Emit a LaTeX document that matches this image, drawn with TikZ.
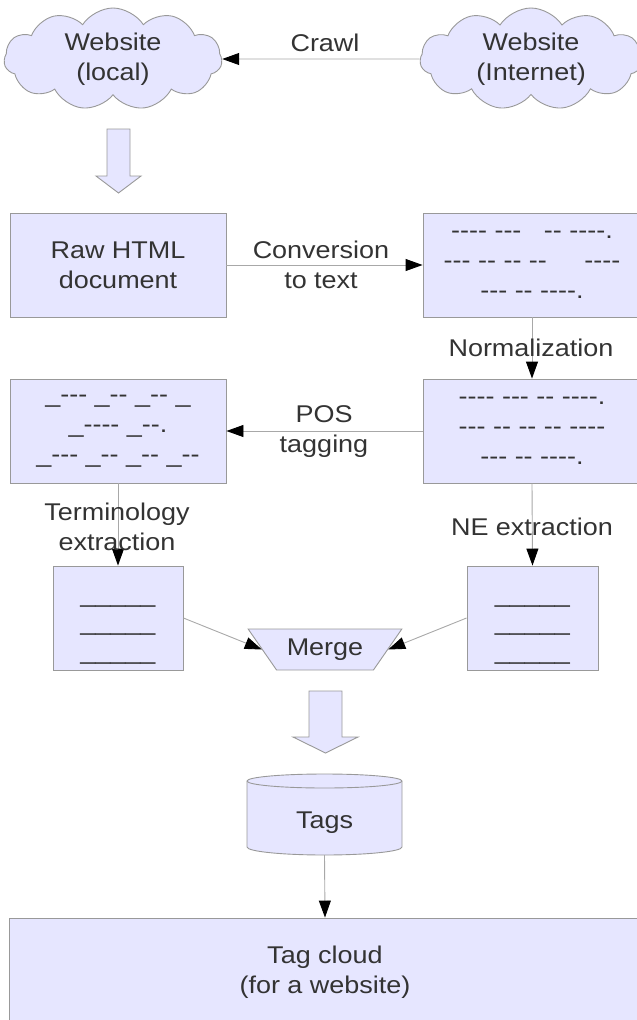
\documentclass[tikz,border=0pt]{standalone}
\usepackage{fontspec}
\setmainfont{Liberation Sans}[FakeStretch=1.115,Ligatures=TeXOff]
\usetikzlibrary{shapes.symbols,shapes.geometric,arrows.meta,calc}
\definecolor{boxfill}{HTML}{E6E6FF}
\definecolor{edge}{HTML}{999999}
\definecolor{wire}{HTML}{A8A8A8}
\definecolor{ink}{HTML}{333333}
\newcommand{\rulelines}{\raisebox{-7pt}[\height][\depth]{\renewcommand{\arraystretch}{0.95}\begin{tabular}{@{}c@{}}\_\_\_\_\_\\\_\_\_\_\_\\\_\_\_\_\_\end{tabular}}}
\begin{document}
\begin{tikzpicture}[x=1pt,y=-1pt,
  font=\fontsize{24.2}{30}\selectfont,
  every node/.style={text=ink},
  stepbox/.style={draw=edge, fill=boxfill, line width=0.9pt, align=center, inner sep=0pt, minimum width=216pt, minimum height=104pt},
  puff/.style={cloud, cloud puffs=11, cloud puff arc=115, cloud ignores aspect, draw=edge, fill=boxfill, line width=0.9pt, align=center, inner sep=0pt, minimum width=218pt, minimum height=102pt},
  flow/.style={draw=wire, line width=0.9pt, -{Triangle[length=17pt,width=12pt,color=black]}},
  lbl/.style={align=center, inner sep=0pt},
  blockarrow/.style={draw=edge, fill=boxfill, line width=0.9pt, line join=miter},
  drum/.style={draw=edge, fill=boxfill, line width=0.9pt}
]
\useasboundingbox (0,0) rectangle (637,1020);
\clip (0,0) rectangle (637,1020);

% clouds
\node[puff] (local) at (113,59) {Website\\(local)};
\node[puff, minimum width=222pt] (internet) at (531,59) {Website\\(Internet)};
\draw[flow] (internet.west) -- (local.east);
\node[lbl] (crawl) at (325,43) {Crawl};

% block arrow 1
\path[blockarrow] (107,129) -- (130,129) -- (130,176) -- (141,176) -- (118.5,193) -- (96,176) -- (107,176) -- cycle;

% row 2
\node[stepbox] (raw) at (118,265) {Raw HTML\\document};
\node[stepbox, minimum width=218pt] (plain) at (532,265) {---- ---\ \ \ -- ----.\\--- -- -- --\ \ \ \ \ ----\\--- -- ----.};
\draw[flow] (raw.east) -- (plain.west);
\node[lbl] (conv) at (321,265) {Conversion\\to text};

% row 3
\node[stepbox, minimum width=218pt] (norm) at (532,431) {---- --- -- ----.\\--- -- -- -- ----\\--- -- ----.};
\draw[flow] (plain.south) -- (norm.north);
\node[lbl] (normlbl) at (531,348) {Normalization};
\node[stepbox] (tagged) at (118,431) {\_--- \_-- \_-- \_\\\_---- \_--.\\\_--- \_-- \_-- \_--};
\draw[flow] (norm.west) -- (tagged.east);
\node[lbl] (pos) at (324,432) {POS\\tagging};

% row 4
\node[stepbox, minimum width=130pt] (terms) at (118,618) {\rulelines};
\node[stepbox, minimum width=131pt] (names) at (532.5,618) {\rulelines};
\draw[flow] (tagged.south) -- (terms.north);
\node[lbl] (termlbl) at (117,527) {Terminology\\extraction};
\draw[flow] (norm.south) -- (names.north);
\node[lbl] (nelbl) at (532,527) {NE extraction};

\node[trapezium, shape border rotate=180, trapezium stretches=true,
      trapezium left angle=44, trapezium right angle=44,
      minimum width=154pt, minimum height=41pt,
      draw=edge, fill=boxfill, line width=0.9pt, inner sep=0pt] (merge) at (325,649.5) {Merge};
\draw[flow] (terms.east) -- (merge.180);
\draw[flow] (names.west) -- (merge.0);

% block arrow 2
\path[blockarrow] (309,691) -- (342,691) -- (342,737) -- (358,737) -- (325.5,753) -- (293,737) -- (309,737) -- cycle;

% cylinder
\path[drum] (247,781) -- (247,847) arc[start angle=180, end angle=360, x radius=77.5pt, y radius=8pt]
  -- (402,781) arc[start angle=0, end angle=180, x radius=77.5pt, y radius=7pt] -- cycle;
\draw[edge, line width=0.9pt] (247,781) arc[start angle=180, end angle=360, x radius=77.5pt, y radius=7pt];
\node[lbl, minimum width=155pt, minimum height=81pt] (tags) at (324.5,814.5) {\raisebox{-8.5pt}[\height][\depth]{Tags}};

% tag cloud
\node[stepbox, minimum width=632pt, minimum height=108pt] (cloudbox) at (325,972) {Tag cloud\\(for a website)};
\draw[flow] (tags.south) -- (cloudbox.north);
\end{tikzpicture}
\end{document}
